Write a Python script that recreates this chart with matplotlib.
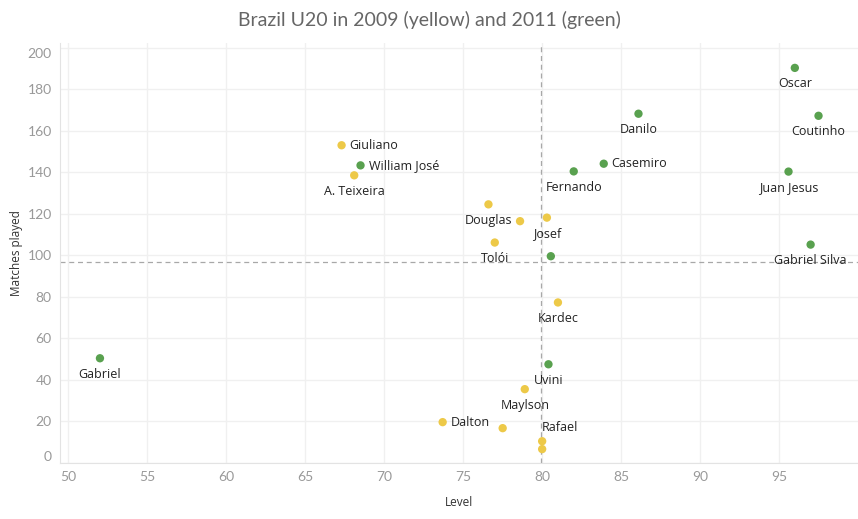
import matplotlib
matplotlib.use("Agg")
import matplotlib.pyplot as plt

# 2009 squad (yellow)
names_2009 = ["Giuliano", "A. Teixeira", "Douglas", "", "Josef", "Tolói",
              "Kardec", "Maylson", "Dalton", "", "Rafael", ""]
level_2009 = [67.3, 68.1, 76.6, 78.6, 80.3, 77.0, 81.0, 78.9, 73.7, 77.5, 80.0, 80.0]
matches_2009 = [153, 138.5, 124.5, 116.4, 118.1, 106.1, 77.2, 35.4, 19.5, 16.6, 10.3, 6.5]

# 2011 squad (green)
names_2011 = ["William José", "Fernando", "", "Casemiro", "Danilo", "Oscar",
              "Coutinho", "Juan Jesus", "Gabriel Silva", "Uvini", "Gabriel"]
level_2011 = [68.5, 82.0, 80.55, 83.9, 86.1, 96.0, 97.5, 95.6, 97.0, 80.4, 52.0]
matches_2011 = [143.3, 140.4, 99.5, 144.1, 168.2, 190.3, 167.2, 140.3, 105.1, 47.4, 50.3]

ref_level = 79.95
ref_matches = 96.5

x_ticks = [50, 55, 60, 65, 70, 75, 80, 85, 90, 95]
y_ticks = [0, 20, 40, 60, 80, 100, 120, 140, 160, 180, 200]

# label placement (pixel offsets); default is below the mark
right_labels = {"Giuliano", "William José", "Casemiro", "Dalton"}
above_right_labels = {"Rafael"}

YELLOW = "#EDC948"
GREEN = "#59A14F"

fig = plt.figure(figsize=(8.58, 5.19), dpi=100)
ax = fig.add_axes([60 / 858, 56 / 519, 798 / 858, 420 / 519])

ax.set_xlim(49.47, 100.0)
ax.set_ylim(-0.2, 202.3)

ax.grid(True, color="#f0f0f0", linewidth=1)
ax.set_axisbelow(True)
for side in ["top", "right"]:
    ax.spines[side].set_visible(False)
for side in ["left", "bottom"]:
    ax.spines[side].set_color("#e3e3e3")

ax.axvline(ref_level, color="#a8a8a8", linestyle=(0, (4, 3)), linewidth=0.9, zorder=1)
ax.axhline(ref_matches, color="#a8a8a8", linestyle=(0, (4, 3)), linewidth=0.9, zorder=1)

ax.scatter(level_2009, matches_2009, s=36, color=YELLOW, edgecolors="none", zorder=3)
ax.scatter(level_2011, matches_2011, s=36, color=GREEN, edgecolors="none", zorder=3)

label_font = dict(fontsize=9, color="#222222", family="Open Sans")
for names, xs, ys in [(names_2009, level_2009, matches_2009),
                      (names_2011, level_2011, matches_2011)]:
    for n, x, y in zip(names, xs, ys):
        if not n:
            continue
        if n in right_labels:
            ax.annotate(n, (x, y), xytext=(8, 0), textcoords="offset pixels",
                        ha="left", va="center", **label_font)
        elif n in above_right_labels:
            ax.annotate(n, (x, y), xytext=(0, 14), textcoords="offset pixels",
                        ha="left", va="center", **label_font)
        else:
            ax.annotate(n, (x, y), xytext=(0, -16), textcoords="offset pixels",
                        ha="center", va="center", **label_font)

ax.set_xticks(x_ticks)
ax.set_yticks(y_ticks)
ax.tick_params(length=0, labelsize=10, labelcolor="#999999", pad=6)
for lab in ax.get_xticklabels() + ax.get_yticklabels():
    lab.set_family("Lato")
# Tableau keeps the end labels inside the axis range
ylabs = ax.get_yticklabels()
ylabs[0].set_va("bottom")
ylabs[-1].set_va("top")

ax.set_xlabel("Level", fontsize=8.5, color="#333333", family="Open Sans", labelpad=9)
ax.set_ylabel("Matches played", fontsize=8.5, color="#333333", family="Open Sans")
ax.yaxis.set_label_coords(-0.046, 0.5)

fig.text(0.5, 0.962, "Brazil U20 in 2009 (yellow) and 2011 (green)", ha="center", va="center",
         fontsize=14, color="#666666", family="Lato")

fig.savefig("out.png", dpi=100)
